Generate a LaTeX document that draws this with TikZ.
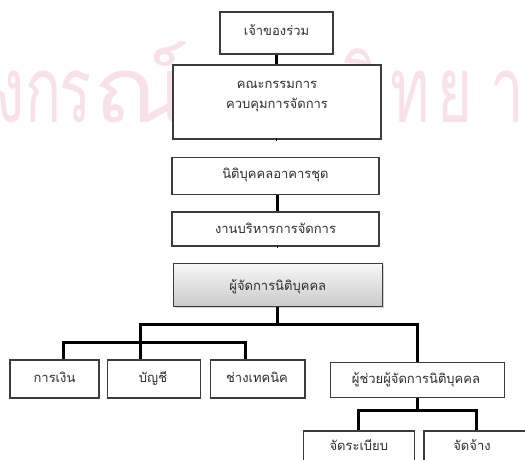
\documentclass[tikz,border=0pt]{standalone}
\usepackage{fontspec}
\newfontfamily\thaifont[Script=Thai]{Loma}
\usetikzlibrary{shadows}
\definecolor{wmpink}{RGB}{248,225,233}
\definecolor{edgegray}{RGB}{60,60,60}
\definecolor{inkgray}{RGB}{45,45,45}
\begin{document}
\begin{tikzpicture}[x=1pt,y=1pt,
  box/.style={draw=edgegray, line width=1.2pt, fill=white, inner sep=0pt},
  headbox/.style={box, top color=gray!6, bottom color=gray!42,
    drop shadow={shadow xshift=1.2pt, shadow yshift=-1.2pt, opacity=0.35}},
  txt/.style={font=\thaifont\fontsize{13}{15}\selectfont, text=inkgray, inner sep=0pt, anchor=base},
  link/.style={line width=3pt, black},
  wm/.style={font=\thaifont\fontsize{92}{92}\selectfont, text=wmpink, inner sep=0pt, anchor=base}]
\useasboundingbox (0,0) rectangle (525,-459);

% faint background lettering behind the chart
\begin{scope}
  \clip (0,0) rectangle (525,-459);
  \foreach \gx/\gl/\gs [count=\i] in {10/ง/0.65, 43.5/ก/0.65, 76/ร/0.65, 142/ณ์/1.13,
      222/ม/0.65, 275/ห/0.65, 320/า/0.65, 360.5/วิ/0.65, 410.5/ท/0.65, 455.5/ย/0.65, 507/า/0.65}
    \node[wm, name=wmglyph\i] at (\gx,-122) {\scalebox{\gs}[1]{\gl}};
\end{scope}

% main chain
\node[box, minimum width=113, minimum height=42] (owner) at (276.5,-33) {};
\node[box, minimum width=208, minimum height=74] (board) at (277,-102) {};
\node[box, minimum width=207, minimum height=37] (juristic) at (275.5,-175.7) {};
\node[box, minimum width=207, minimum height=34] (admin) at (275.5,-229) {};
\node[headbox, minimum width=209, minimum height=43] (manager) at (277.8,-285) {};

% departments
\node[box, minimum width=89, minimum height=38] (finance) at (54.5,-379) {};
\node[box, minimum width=93.4, minimum height=38] (account) at (154,-379) {};
\node[box, minimum width=94.3, minimum height=38] (tech) at (257.8,-379) {};
\node[box, minimum width=173.6, minimum height=35] (assist) at (417.5,-379.8) {};
\node[box, minimum width=111, minimum height=40] (order) at (358.8,-451) {};
\node[box, minimum width=104, minimum height=40] (hire) at (476,-451) {};

% labels
\node[txt] (owner-t) at (276.5,-35) {เจ้าของร่วม};
\node[txt] (board-t1) at (277,-88) {คณะกรรมการ};
\node[txt] (board-t2) at (277,-108) {ควบคุมการจัดการ};
\node[txt] (juristic-t) at (275.5,-178) {นิติบุคคลอาคารชุด};
\node[txt] (admin-t) at (275.5,-233) {งานบริหารการจัดการ};
\node[txt] (manager-t) at (277.8,-290) {ผู้จัดการนิติบุคคล};
\node[txt] (finance-t) at (54.5,-382) {การเงิน};
\node[txt] (account-t) at (153,-382) {บัญชี};
\node[txt] (tech-t) at (257,-382) {ช่างเทคนิค};
\node[txt] (assist-t) at (416,-383) {ผู้ช่วยผู้จัดการนิติบุคคล};
\node[txt] (order-t) at (358.8,-450.5) {จัดระเบียบ};
\node[txt] (hire-t) at (472,-450) {จัดจ้าง};

% junction points
\coordinate (busA) at (277,-324);
\coordinate (busL) at (140,-324);
\coordinate (busR) at (417.5,-324);
\coordinate (subL) at (140,-342);
\coordinate (subA) at (63.3,-342);
\coordinate (subC) at (245.5,-342);
\coordinate (lowA) at (417.5,-410);
\coordinate (lowL) at (358.8,-410);
\coordinate (lowR) at (476,-410);

% connectors
\draw[link] (owner.south) -- (owner.south |- board.north);
\draw[link] (board.south) -- (board.south -| juristic.north);
\draw[link] ([xshift=1.5pt]juristic.south) -- ([xshift=1.5pt]admin.north);
\draw[link] ([xshift=1.5pt]admin.south) -- (admin.south -| manager.north);
\draw[link] (manager.south -| busA) -- (busA);
\draw[link, line cap=rect] (busL) -- (busR);
\draw[link] (busR) -- (assist.north);
\draw[link] (busL) -- (subL);
\draw[link, line cap=rect] (subA) -- (subC);
\draw[link] (subA) -- (subA |- finance.north);
\draw[link] (subL) -- (subL |- account.north);
\draw[link] (subC) -- (subC |- tech.north);
\draw[link] (assist.south) -- (lowA);
\draw[link, line cap=rect] (lowL) -- (lowR);
\draw[link] (lowL) -- (order.north);
\draw[link] (lowR) -- (hire.north);
\end{tikzpicture}
\end{document}
